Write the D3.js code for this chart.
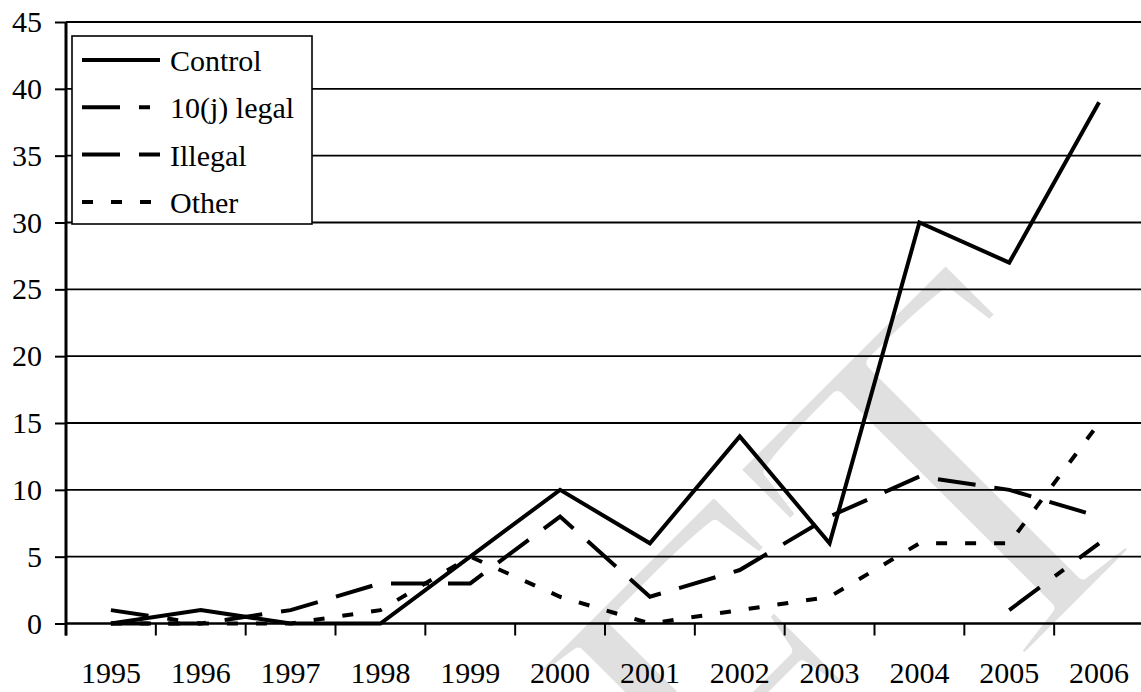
<!DOCTYPE html>
<html>
<head>
<meta charset="utf-8">
<script src="https://cdn.jsdelivr.net/npm/d3@7"></script>
<style>
  html, body { margin: 0; padding: 0; background: #fff; }
  svg { display: block; }
</style>
</head>
<body>
<div id="chart"></div>
<script>
const years = ["1995", "1996", "1997", "1998", "1999", "2000", "2001", "2002", "2003", "2004", "2005", "2006"];
const control = [0, 1, 0, 0, 5, 10, 6, 14, 6, 30, 27, 39];
const legal10j = [1, 0, null, null, null, null, null, null, null, null, 1, 6];
const illegal = [0, 0, 1, 3, 3, 8, 2, 4, 8, 11, 10, 8];
const other = [0, 0, 0, 1, 5, 2, 0, 1, 2, 6, 6, 15];
const yTicks = [0, 5, 10, 15, 20, 25, 30, 35, 40, 45];

const seriesList = [
  { name: "Control", values: control, dash: null },
  { name: "10(j) legal", values: legal10j, dash: "38,19,11,19" },
  { name: "Illegal", values: illegal, dash: "38,19" },
  { name: "Other", values: other, dash: "11,18" },
];

const FONT = "'Liberation Serif', 'Times New Roman', Times, 'DejaVu Serif', serif";
const width = 1141;
const height = 692;
const margin = { top: 22, left: 66, bottom: 68.5 };

const svg = d3
  .select("#chart")
  .append("svg")
  .attr("width", width)
  .attr("height", height)
  .attr("font-family", FONT);

const x = d3.scaleBand().domain(years).range([margin.left, 1144]).padding(0);
const y = d3.scaleLinear().domain([0, 45]).range([height - margin.bottom, margin.top]);

// watermark, mostly outside the visible area; white stroke thins the glyphs
svg
  .append("text")
  .attr("transform", "translate(-13, 1698) rotate(-45)")
  .attr("font-size", 520)
  .attr("font-family", FONT)
  .attr("fill", "#e0e0e0")
  .attr("stroke", "#fff")
  .attr("stroke-width", 12)
  .attr("stroke-linejoin", "round")
  .text("DRAFT");

// gridlines
svg
  .append("g")
  .selectAll("line")
  .data(yTicks.filter((d) => d > 0))
  .join("line")
  .attr("x1", margin.left)
  .attr("x2", width)
  .attr("y1", (d) => y(d))
  .attr("y2", (d) => y(d))
  .attr("stroke", "#000")
  .attr("stroke-width", 1.8);

svg
  .append("g")
  .attr("transform", `translate(${margin.left}, 0)`)
  .call(d3.axisLeft(y).tickValues(yTicks).tickSize(11).tickPadding(13))
  .attr("font-family", FONT)
  .call((g) => g.select(".domain").attr("stroke-width", 3).attr("d", `M0,${y(45)}V${y(0) + 12}`))
  .call((g) => g.selectAll(".tick line").attr("stroke-width", 2))
  .call((g) => g.selectAll("text").attr("font-size", 30).attr("fill", "#000"));

const xAxis = svg.append("g").attr("transform", `translate(0, ${y(0)})`);
xAxis
  .append("line")
  .attr("x1", margin.left)
  .attr("x2", width)
  .attr("stroke", "#000")
  .attr("stroke-width", 2.5);
xAxis
  .selectAll("line.tk")
  .data(years)
  .join("line")
  .attr("class", "tk")
  .attr("x1", (d) => x(d))
  .attr("x2", (d) => x(d))
  .attr("y1", 0)
  .attr("y2", 12)
  .attr("stroke", "#000")
  .attr("stroke-width", 2);
xAxis
  .selectAll("text")
  .data(years)
  .join("text")
  .attr("x", (d) => x(d) + x.bandwidth() / 2)
  .attr("y", 59)
  .attr("text-anchor", "middle")
  .attr("font-size", 30)
  .text((d) => d);

const line = d3
  .line()
  .defined((d) => d.v !== null)
  .x((d) => x(d.year) + x.bandwidth() / 2)
  .y((d) => y(d.v));

svg
  .append("g")
  .selectAll("path")
  .data(seriesList)
  .join("path")
  .attr("d", (s) => line(s.values.map((v, i) => ({ year: years[i], v }))))
  .attr("fill", "none")
  .attr("stroke", "#000")
  .attr("stroke-width", 4)
  .attr("stroke-linejoin", "miter")
  .attr("stroke-dasharray", (s) => s.dash);

// legend
const legend = svg.append("g").attr("transform", "translate(72, 36)");
legend
  .append("rect")
  .attr("width", 240)
  .attr("height", 188)
  .attr("fill", "#fff")
  .attr("stroke", "#000")
  .attr("stroke-width", 1.6);

const rows = legend
  .selectAll("g.row")
  .data(seriesList)
  .join("g")
  .attr("class", "row")
  .attr("transform", (d, i) => `translate(0, ${24 + i * 47.3})`);

rows
  .append("line")
  .attr("x1", 10)
  .attr("x2", 88)
  .attr("stroke", "#000")
  .attr("stroke-width", 4)
  .attr("stroke-dasharray", (d) => d.dash);

rows
  .append("text")
  .attr("x", 98)
  .attr("y", 11)
  .attr("font-size", 30)
  .text((d) => d.name);
</script>
</body>
</html>
